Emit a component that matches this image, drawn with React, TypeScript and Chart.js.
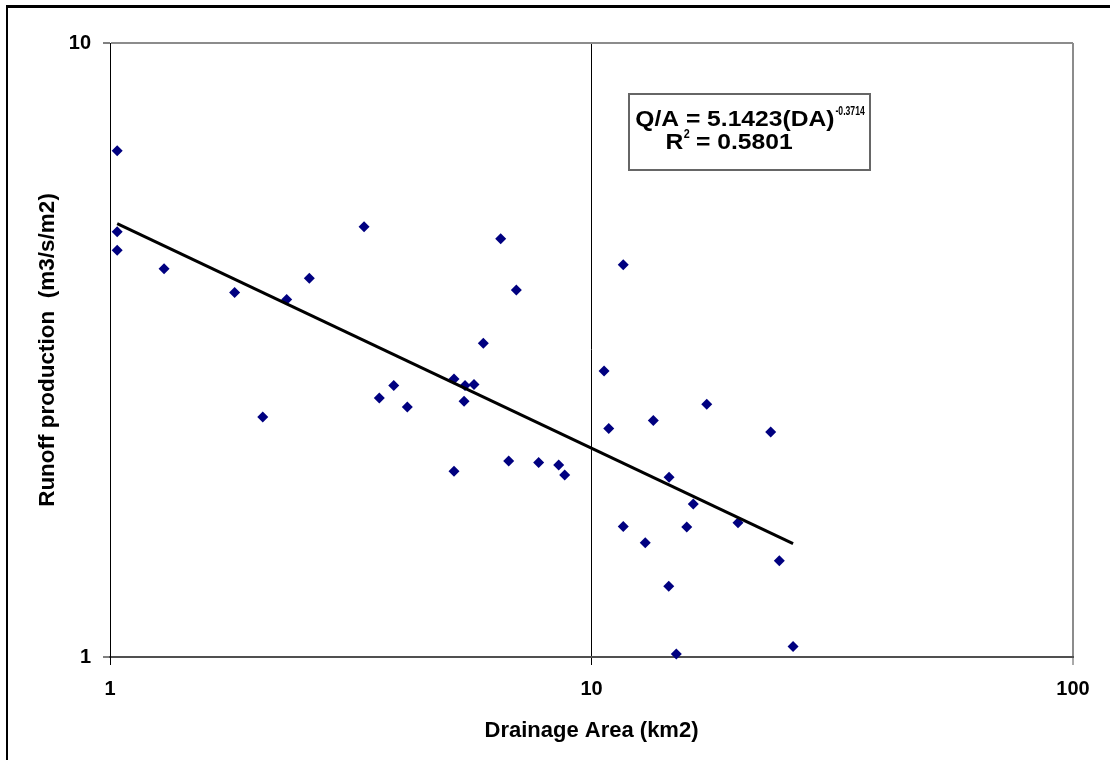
import React, { useEffect, useRef } from "react";
import { Chart, registerables } from "chart.js";

Chart.register(...registerables);

// Drainage area (km2) and runoff production (m3/s/m2)
const areaKm2 = [
  1.035, 1.035, 1.035, 1.295, 1.815, 2.328, 2.594, 2.076, 3.37, 3.625,
  3.884, 4.144, 5.182, 5.462, 5.702, 5.436, 5.961, 6.478, 6.981, 5.182,
  6.73, 7.767, 8.549, 8.797, 10.62, 10.86, 11.64, 13.44, 17.35, 23.56,
  14.49, 16.27, 20.15, 11.64, 15.77, 12.93, 24.55, 14.47, 26.22, 15.0,
];
const runoff = [
  6.675, 4.925, 4.598, 4.287, 3.924, 3.822, 4.14, 2.46, 5.018, 2.642,
  2.768, 2.554, 2.837, 2.768, 2.778, 2.609, 3.244, 4.798, 3.962, 2.006,
  2.085, 2.073, 2.054, 1.979, 2.923, 2.355, 4.352, 2.427, 2.579, 2.325,
  1.962, 1.775, 1.655, 1.632, 1.628, 1.535, 1.435, 1.304, 1.04, 1.011,
];
// Power trend line end points
const trendX = [1.035, 26.22];
const trendY = [5.08, 1.53];

const xTicks = [1, 10, 100];
const yTicks = [1, 10];

const xTitle = "Drainage Area (km2)";
const yTitle = "Runoff production  (m3/s/m2)";
const eqMain = "Q/A = 5.1423(DA)";
const eqExp = "-0.3714";
const r2Main = "R";
const r2Sup = "2";
const r2Rest = " = 0.5801";

const FONT = "'Liberation Sans', Arial, Helvetica, sans-serif";

const equationPlugin = {
  id: "equationBox",
  afterDraw(chart: any) {
    const ctx = chart.ctx as CanvasRenderingContext2D;
    ctx.save();
    const bx = 629, by = 94, bw = 241, bh = 76;
    ctx.fillStyle = "#ffffff";
    ctx.fillRect(bx, by, bw, bh);
    ctx.strokeStyle = "#666666";
    ctx.lineWidth = 2;
    ctx.strokeRect(bx, by, bw, bh);
    const big = `bold 22px ${FONT}`;
    const small = `bold 12px ${FONT}`;
    const sx = 1.12;
    const ss = 0.72;
    const put = (t: string, x: number, y: number, f: string, s: number) => {
      ctx.save();
      ctx.font = f;
      ctx.translate(x, y);
      ctx.scale(s, 1);
      ctx.fillText(t, 0, 0);
      ctx.restore();
    };
    const mw = (t: string, f: string, s: number) => {
      ctx.font = f;
      return ctx.measureText(t).width * s;
    };
    ctx.fillStyle = "#000";
    ctx.textBaseline = "alphabetic";
    ctx.textAlign = "left";
    // line 1
    const w1 = mw(eqMain, big, sx);
    const w2 = mw(eqExp, small, ss);
    let x = bx + bw / 2 - (w1 + w2) / 2;
    put(eqMain, x, 126, big, sx);
    put(eqExp, x + w1 + 1, 115, small, ss);
    // line 2
    const a = mw(r2Main, big, sx);
    const b = mw(r2Sup, small, 0.9);
    const c = mw(r2Rest, big, sx);
    x = 729 - (a + b + c) / 2;
    put(r2Main, x, 148.5, big, sx);
    put(r2Sup, x + a + 0.5, 137.5, small, 0.9);
    put(r2Rest, x + a + b, 148.5, big, sx);
    ctx.restore();
  },
};

export default function App() {
  const ref = useRef<HTMLCanvasElement | null>(null);

  useEffect(() => {
    if (!ref.current) return;
    const points = areaKm2.map((v, i) => ({ x: v, y: runoff[i] }));
    const trend = trendX.map((v, i) => ({ x: v, y: trendY[i] }));
    const chart = new Chart(ref.current, {
      type: "scatter",
      data: {
        datasets: [
          {
            label: "Trend",
            data: trend,
            showLine: true,
            borderColor: "#000",
            borderWidth: 3,
            pointRadius: 0,
            order: 0,
            clip: false as any,
          },
          {
            label: "Observed",
            data: points,
            pointStyle: "rectRot",
            pointRadius: 5.5,
            pointBorderWidth: 0,
            backgroundColor: "#000080",
            borderColor: "#000080",
            order: 1,
            clip: false as any,
          },
        ],
      },
      options: {
        animation: false,
        responsive: false,
        layout: { padding: { left: 0, top: 43, right: 37, bottom: 0 } },
        plugins: {
          legend: { display: false },
          tooltip: { enabled: false },
        },
        scales: {
          x: {
            type: "logarithmic",
            min: 1,
            max: 100,
            afterBuildTicks: (s: any) => {
              s.ticks = xTicks.map((v) => ({ value: v }));
            },
            afterFit: (s: any) => {
              s.height = 103;
            },
            ticks: {
              autoSkip: false,
              maxRotation: 0,
              padding: 12,
              color: "#000",
              font: { size: 20, weight: "bold", family: FONT },
              callback: (v: any) => String(v),
            },
            grid: {
              color: (c: any) => (c.tick && c.tick.value === 100 ? "#8c8c8c" : "#000"),
              lineWidth: (c: any) => (c.tick && c.tick.value === 100 ? 2 : 1),
              tickLength: 8,
              tickColor: (c: any) => (c.tick && c.tick.value === 100 ? "#555" : "#000"),
              tickWidth: 1,
            },
            border: { display: true, color: "#505050", width: 2 },
            title: {
              display: true,
              text: xTitle,
              color: "#000",
              font: { size: 22, weight: "bold", family: FONT },
              padding: { top: 0, bottom: 16 },
            },
          },
          y: {
            type: "logarithmic",
            min: 1,
            max: 10,
            afterBuildTicks: (s: any) => {
              s.ticks = yTicks.map((v) => ({ value: v }));
            },
            afterFit: (s: any) => {
              s.width = 110;
            },
            ticks: {
              autoSkip: false,
              padding: 12,
              color: "#000",
              font: { size: 20, weight: "bold", family: FONT },
              callback: (v: any) => String(v),
            },
            grid: {
              color: (c: any) => (c.tick && c.tick.value === 10 ? "#8c8c8c" : "#505050"),
              lineWidth: 2,
              tickLength: 7,
              tickColor: "#000",
              tickWidth: 1,
            },
            border: { display: true, color: "#000", width: 1 },
            title: {
              display: true,
              text: yTitle,
              color: "#000",
              font: { size: 22.5, weight: "bold", family: FONT },
              padding: { top: 34, bottom: 0 },
            },
          },
        },
      },
      plugins: [equationPlugin],
    });
    return () => chart.destroy();
  }, []);

  return (
    <div
      style={{
        position: "fixed",
        left: 0,
        top: 0,
        width: 1110,
        height: 760,
        overflow: "hidden",
        background: "#fff",
      }}
    >
      <div
        style={{
          position: "absolute",
          left: 6,
          top: 5,
          width: 1200,
          height: 900,
          borderLeft: "2px solid #000",
          borderTop: "3px solid #000",
        }}
      />
      <canvas
        ref={ref}
        width={1110}
        height={760}
        style={{ position: "absolute", left: 0, top: 0, width: 1110, height: 760 }}
      />
    </div>
  );
}
